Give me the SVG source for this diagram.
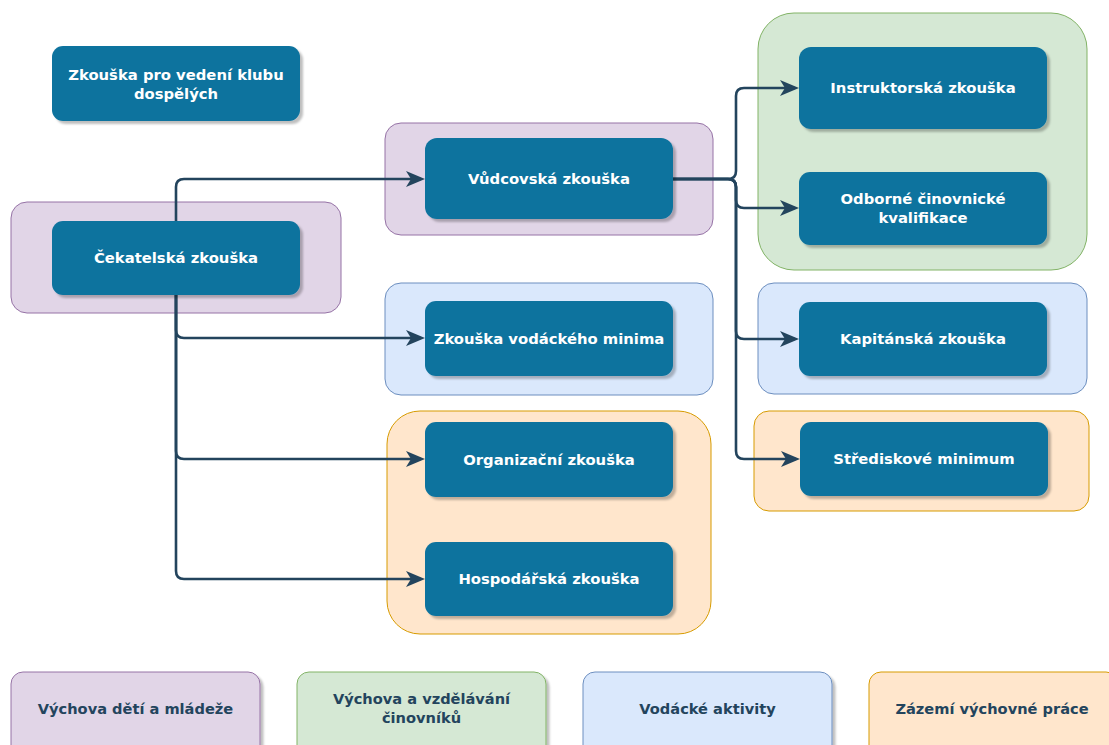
<svg xmlns="http://www.w3.org/2000/svg" width="1109" height="745" viewBox="0 0 1109 745">
<defs>
<style>
.node{fill:#10739E;filter:url(#sh)}
.nt{fill:#FFFFFF;font-family:"DejaVu Sans",Verdana,sans-serif;font-weight:bold;font-size:14.8px;text-anchor:middle}
.lt{fill:#23445D;font-family:"DejaVu Sans",Verdana,sans-serif;font-weight:bold;font-size:14.6px;text-anchor:middle}
.purple{fill:#E1D5E7;stroke:#9673A6;stroke-width:1}
.green{fill:#D5E8D4;stroke:#82B366;stroke-width:1}
.blue{fill:#DAE8FC;stroke:#6C8EBF;stroke-width:1}
.orange{fill:#FFE6CC;stroke:#D79B00;stroke-width:1}
.edge{fill:none;stroke:#23445D;stroke-width:2.6;marker-end:url(#arr)}
.leg{filter:url(#sh)}
</style>
<filter id="sh" x="-10%" y="-10%" width="125%" height="130%">
<feDropShadow dx="3" dy="3" stdDeviation="1" flood-color="#000000" flood-opacity="0.25"/>
</filter>
<marker id="arr" markerUnits="userSpaceOnUse" markerWidth="20" markerHeight="18" refX="15" refY="8" orient="auto">
<path d="M0,0 L19,8 L0,16 L5,8 Z" fill="#23445D"/>
</marker>
</defs>
<rect width="1109" height="745" fill="#FFFFFF"/>

<g id="containers">
<rect id="c-cekatel" class="purple" x="11" y="202" width="330" height="111" rx="16"/>
<rect id="c-vudce" class="purple" x="385" y="123" width="328" height="112" rx="16"/>
<rect id="c-voda-min" class="blue" x="385" y="283" width="328" height="112" rx="16"/>
<rect id="c-zazemi-left" class="orange" x="387" y="411" width="324" height="223" rx="33"/>
<rect id="c-cinovnici" class="green" x="758" y="13" width="329" height="257" rx="36"/>
<rect id="c-kapitan" class="blue" x="758" y="283" width="329" height="111" rx="16"/>
<rect id="c-stredisko" class="orange" x="754" y="411" width="335" height="100" rx="15"/>
</g>

<g id="connectors">
<path class="edge" d="M176,221 V187 Q176,179 184,179 H421"/>
<path class="edge" d="M176,295 V330 Q176,338 184,338 H421"/>
<path class="edge" d="M176,295 V451 Q176,459 184,459 H421"/>
<path class="edge" d="M176,295 V571 Q176,579 184,579 H421"/>
<path class="edge" d="M673,179 H728 Q736,179 736,171 V96 Q736,88 744,88 H795"/>
<path class="edge" d="M673,179 H728 Q736,179 736,187 V200 Q736,208 744,208 H795"/>
<path class="edge" d="M673,179 H728 Q736,179 736,187 V331 Q736,339 744,339 H795"/>
<path class="edge" d="M673,179 H728 Q736,179 736,187 V451 Q736,459 744,459 H796"/>
</g>

<g id="n-klub">
<rect class="node" x="52" y="46" width="248" height="75" rx="11"/>
<text class="nt" x="176" y="79.5">Zkouška pro vedení klubu</text>
<text class="nt" x="176" y="98.5">dospělých</text>
</g>
<g id="n-cekatel">
<rect class="node" x="52" y="221" width="248" height="74" rx="11"/>
<text class="nt" x="176" y="263">Čekatelská zkouška</text>
</g>
<g id="n-vudce">
<rect class="node" x="425" y="138" width="248" height="81" rx="12"/>
<text class="nt" x="549" y="184">Vůdcovská zkouška</text>
</g>
<g id="n-voda-min">
<rect class="node" x="425" y="301" width="248" height="75" rx="11"/>
<text class="nt" x="549" y="343.5">Zkouška vodáckého minima</text>
</g>
<g id="n-organizacni">
<rect class="node" x="425" y="422" width="248" height="75" rx="11"/>
<text class="nt" x="549" y="464.5">Organizační zkouška</text>
</g>
<g id="n-hospodarska">
<rect class="node" x="425" y="542" width="248" height="74" rx="11"/>
<text class="nt" x="549" y="584">Hospodářská zkouška</text>
</g>
<g id="n-instruktor">
<rect class="node" x="799" y="47" width="248" height="82" rx="12"/>
<text class="nt" x="923" y="93">Instruktorská zkouška</text>
</g>
<g id="n-odborne">
<rect class="node" x="799" y="172" width="248" height="73" rx="11"/>
<text class="nt" x="923" y="203.5">Odborné činovnické</text>
<text class="nt" x="923" y="222.5">kvalifikace</text>
</g>
<g id="n-kapitan">
<rect class="node" x="799" y="302" width="248" height="74" rx="11"/>
<text class="nt" x="923" y="344">Kapitánská zkouška</text>
</g>
<g id="n-stredisko">
<rect class="node" x="800" y="422" width="248" height="74" rx="11"/>
<text class="nt" x="924" y="464">Střediskové minimum</text>
</g>

<g id="legend-purple">
<rect class="purple leg" x="11" y="672" width="249" height="85" rx="12"/>
<text class="lt" x="135.5" y="714">Výchova dětí a mládeže</text>
</g>
<g id="legend-green">
<rect class="green leg" x="297" y="672" width="249" height="85" rx="12"/>
<text class="lt" x="421.5" y="704">Výchova a vzdělávání</text>
<text class="lt" x="421.5" y="723">činovníků</text>
</g>
<g id="legend-blue">
<rect class="blue leg" x="583" y="672" width="249" height="85" rx="12"/>
<text class="lt" x="707.5" y="714">Vodácké aktivity</text>
</g>
<g id="legend-orange">
<rect class="orange leg" x="869" y="672" width="249" height="85" rx="12"/>
<text class="lt" x="992" y="714">Zázemí výchovné práce</text>
</g>
</svg>
